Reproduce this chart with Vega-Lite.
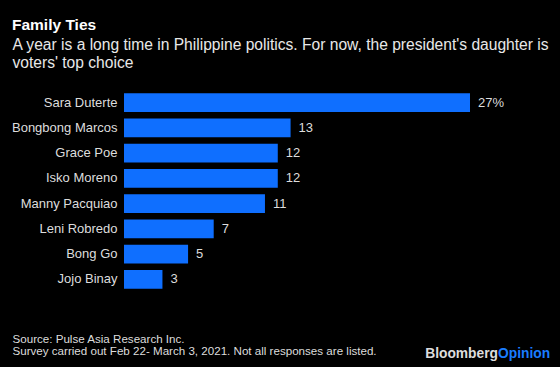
{
  "$schema": "https://vega.github.io/schema/vega-lite/v6.json",
  "autosize": "none",
  "width": 346,
  "height": 202,
  "padding": {"left": 124, "top": 90, "right": 90, "bottom": 75},
  "background": "#000000",
  "config": {
    "view": {"stroke": null},
    "font": "Liberation Sans"
  },
  "title": {
    "text": "Family Ties",
    "anchor": "start",
    "frame": "group",
    "dx": -112,
    "dy": 12,
    "offset": 4,
    "baseline": "alphabetic",
    "font": "Liberation Sans",
    "fontSize": 15.5,
    "fontWeight": "bold",
    "color": "#ffffff"
  },
  "data": {
    "values": [
      {"name": "Sara Duterte", "value": 27, "label": "27%"},
      {"name": "Bongbong Marcos", "value": 13, "label": "13"},
      {"name": "Grace Poe", "value": 12, "label": "12"},
      {"name": "Isko Moreno", "value": 12, "label": "12"},
      {"name": "Manny Pacquiao", "value": 11, "label": "11"},
      {"name": "Leni Robredo", "value": 7, "label": "7"},
      {"name": "Bong Go", "value": 5, "label": "5"},
      {"name": "Jojo Binay", "value": 3, "label": "3"}
    ]
  },
  "encoding": {
    "y": {
      "field": "name",
      "type": "nominal",
      "sort": ["Sara Duterte", "Bongbong Marcos", "Grace Poe", "Isko Moreno", "Manny Pacquiao", "Leni Robredo", "Bong Go", "Jojo Binay"],
      "scale": {"paddingInner": 0.25, "paddingOuter": 0.125},
      "axis": {
        "title": ["A year is a long time in Philippine politics. For now, the president's daughter is", "voters' top choice"],
        "titleAngle": 0,
        "titleAlign": "left",
        "titleBaseline": "alphabetic",
        "titleX": -112,
        "titleY": -40.5,
        "titleFont": "Liberation Sans",
        "titleFontSize": 15.6,
        "titleFontWeight": "normal",
        "titleColor": "#e8e8e8",
        "titleLineHeight": 18,
        "domain": false,
        "ticks": false,
        "labelPadding": 7,
        "labelFontSize": 13,
        "labelColor": "#dddddd",
        "labelFont": "Liberation Sans"
      }
    },
    "x": {
      "field": "value",
      "type": "quantitative",
      "scale": {"domain": [0, 27], "nice": false},
      "axis": {
        "title": ["Source: Pulse Asia Research Inc.", "Survey carried out Feb 22- March 3, 2021. Not all responses are listed."],
        "titleAnchor": "start",
        "titleAlign": "left",
        "titleBaseline": "alphabetic",
        "titleX": -112,
        "titleY": 50,
        "titleFont": "Liberation Sans",
        "titleFontSize": 11.6,
        "titleFontWeight": "normal",
        "titleColor": "#dddddd",
        "titleLineHeight": 12,
        "labels": false,
        "ticks": false,
        "domain": false,
        "grid": false
      }
    }
  },
  "layer": [
    {"mark": {"type": "bar", "color": "#0f6fff"}},
    {
      "mark": {"type": "text", "align": "left", "baseline": "middle", "dx": 8, "fontSize": 13, "color": "#dddddd", "font": "Liberation Sans"},
      "encoding": {"text": {"field": "label"}}
    },
    {
      "data": {"values": [{"t": "Bloomberg"}]},
      "mark": {"type": "text", "align": "right", "baseline": "alphabetic", "fontSize": 13.8, "fontWeight": "bold", "color": "#dddddd", "dx": 28, "dy": 66, "font": "Liberation Sans"},
      "encoding": {"text": {"field": "t"}, "x": {"value": "width"}, "y": {"value": "height"}}
    },
    {
      "data": {"values": [{"t": "Opinion"}]},
      "mark": {"type": "text", "align": "left", "baseline": "alphabetic", "fontSize": 13.8, "fontWeight": "bold", "color": "#1a7cff", "dx": 28, "dy": 66, "font": "Liberation Sans"},
      "encoding": {"text": {"field": "t"}, "x": {"value": "width"}, "y": {"value": "height"}}
    }
  ]
}
